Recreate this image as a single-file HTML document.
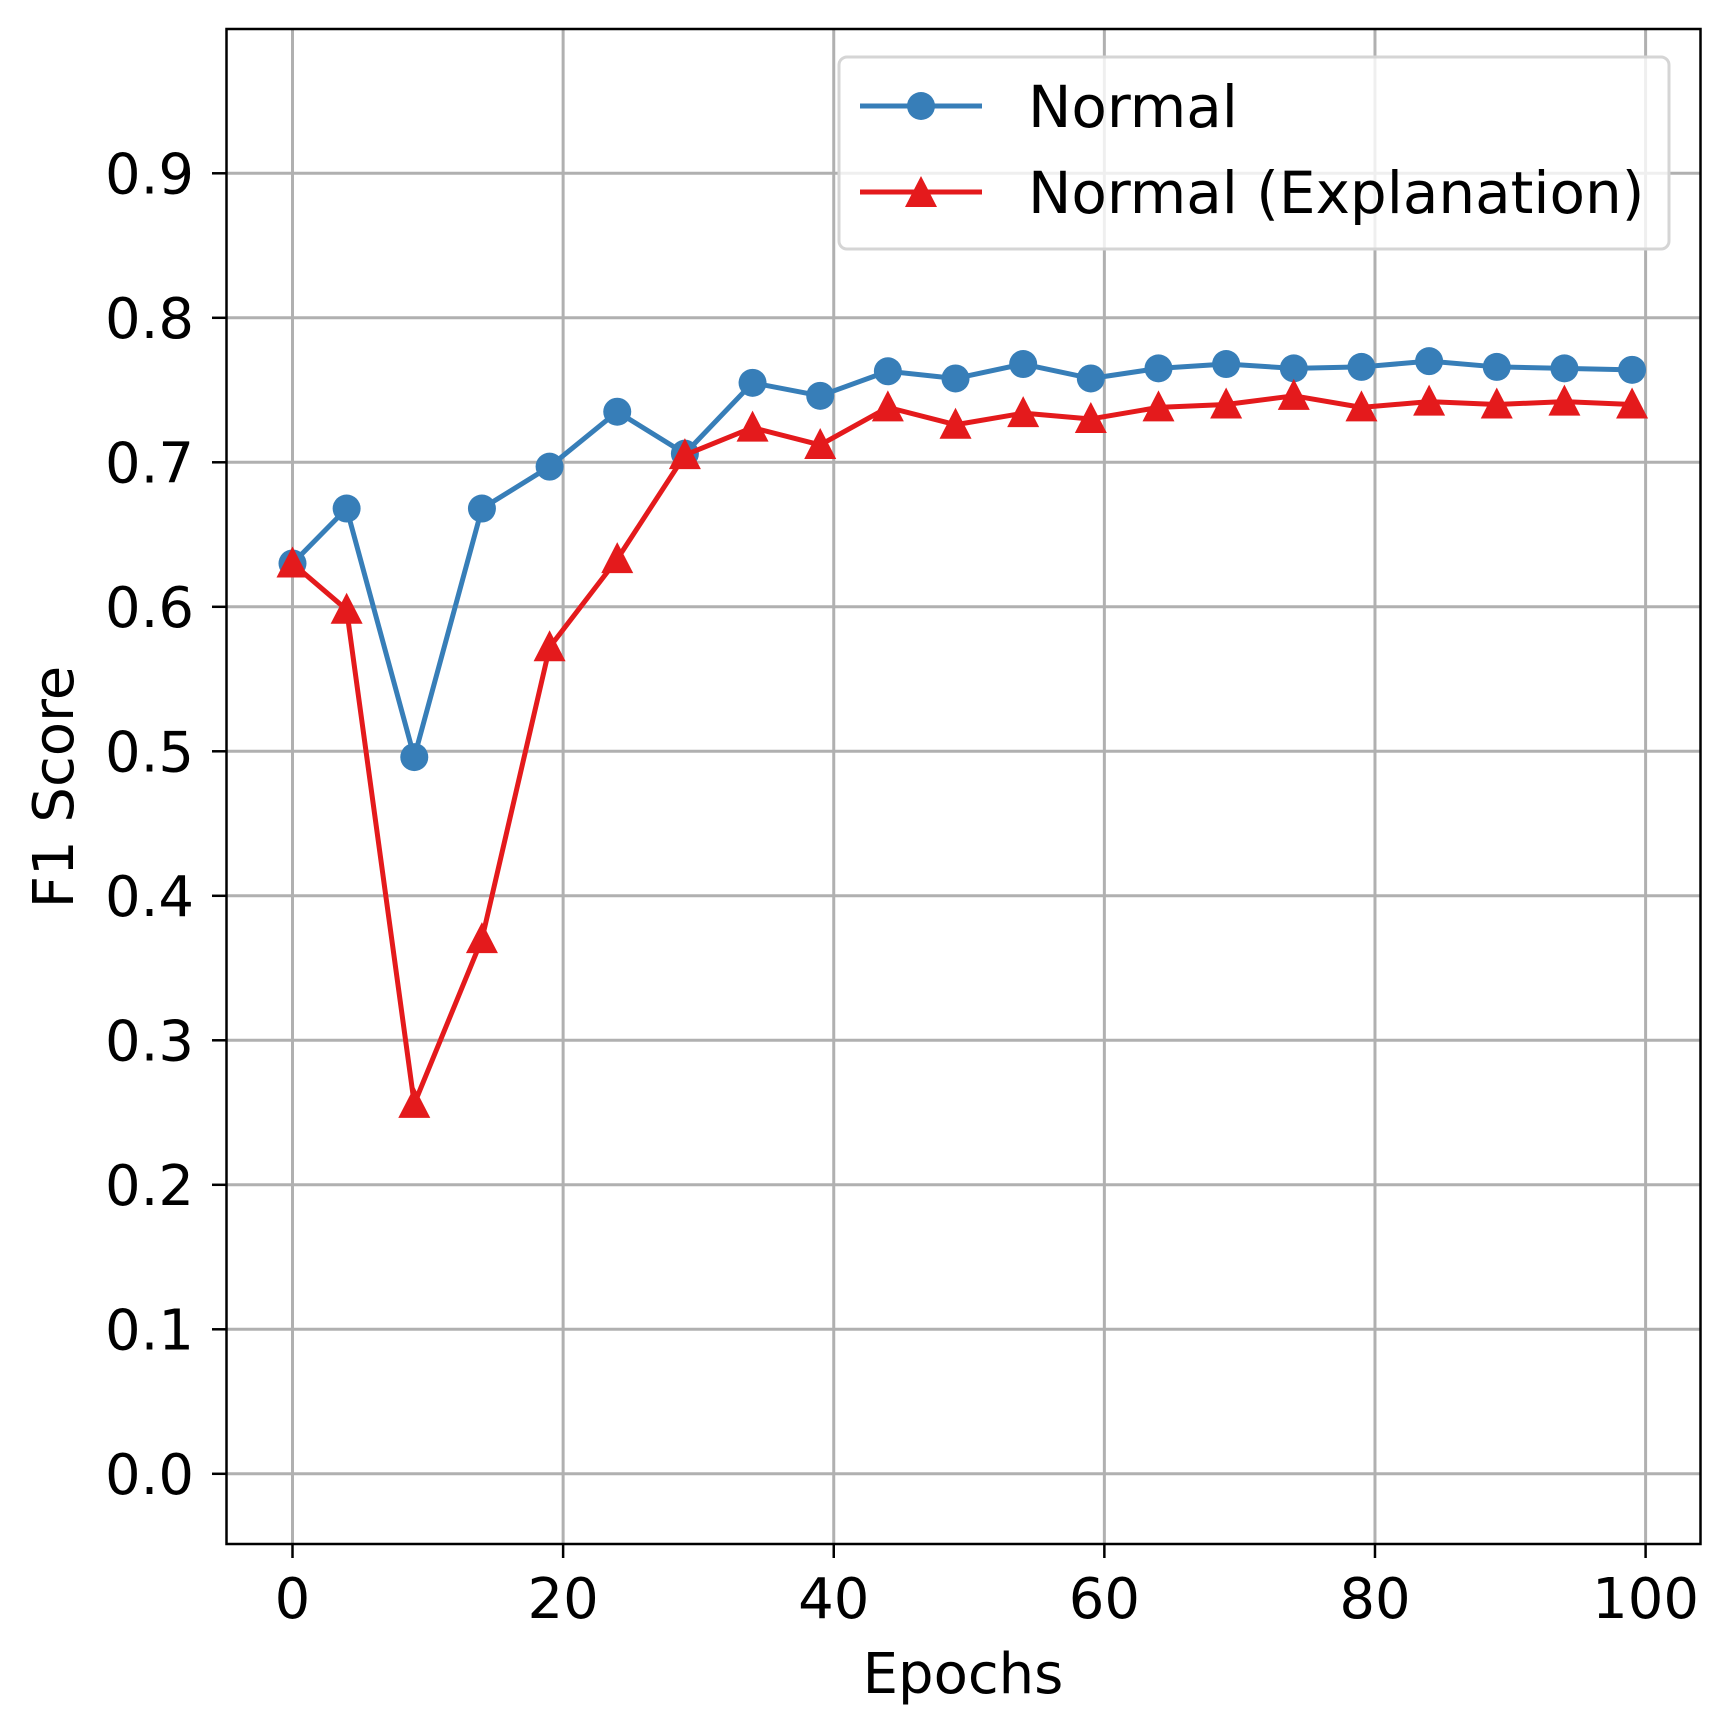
<!DOCTYPE html>
<html><head><meta charset="utf-8"><style>html,body{margin:0;padding:0;background:#fff}svg{display:block}text{font-family:"DejaVu Sans","Liberation Sans",sans-serif;fill:#000}</style></head>
<body>
<svg id="chart" width="1730" height="1733" viewBox="0 0 1730 1733" xmlns="http://www.w3.org/2000/svg">
<g id="grid"></g>
<g id="series"></g>
<rect x="226.5" y="29" width="1474" height="1515" fill="none" stroke="#000" stroke-width="2.5"/>
<g id="ticks"></g>
<text x="963" y="1693" font-size="56" text-anchor="middle">Epochs</text>
<text x="0" y="0" font-size="56" text-anchor="middle" transform="translate(73,787) rotate(-90)">F1 Score</text>
<g>
<rect x="839" y="57" width="830" height="192" rx="8" fill="#fff" fill-opacity="0.8" stroke="#d5d5d5" stroke-width="3"/>
<g>
<line x1="860" y1="106" x2="982" y2="106" stroke="#377eb8" stroke-width="5"/>
<circle cx="921" cy="106" r="14" fill="#377eb8"/>
<text x="1028" y="127" font-size="58">Normal</text>
</g>
<g>
<line x1="860" y1="192" x2="982" y2="192" stroke="#e41a1c" stroke-width="5"/>
<polygon points="921,176 937,207 905,207" fill="#e41a1c"/>
<text x="1028" y="213" font-size="58">Normal (Explanation)</text>
</g>
</g>
</svg>
<script>
const epochs=[0,4,9,14,19,24,29,34,39,44,49,54,59,64,69,74,79,84,89,94,99];
const normalF1=[0.630,0.668,0.496,0.668,0.697,0.735,0.706,0.755,0.746,0.763,0.758,0.768,0.758,0.765,0.768,0.765,0.766,0.770,0.766,0.765,0.764];
const explF1=[0.630,0.598,0.256,0.370,0.572,0.633,0.705,0.724,0.712,0.738,0.726,0.734,0.730,0.738,0.740,0.746,0.738,0.742,0.740,0.742,0.740];
const xTicks=[0,20,40,60,80,100];
const yTicks=[0.0,0.1,0.2,0.3,0.4,0.5,0.6,0.7,0.8,0.9];
const NS='http://www.w3.org/2000/svg';
function xs(v){return 292.5+v*13.531;}
function ys(v){return 1473.8-v*1445;}
function mk(tag,attrs,parent){const e=document.createElementNS(NS,tag);for(const k in attrs)e.setAttribute(k,attrs[k]);parent.appendChild(e);return e;}
const grid=document.getElementById('grid'),ticks=document.getElementById('ticks'),series=document.getElementById('series');
xTicks.forEach(t=>{
 const g=mk('line',{x1:xs(t),x2:xs(t),y1:29,y2:1544,stroke:'#b0b0b0','stroke-width':3},grid);
 
 
 const tk=mk('line',{x1:xs(t),x2:xs(t),y1:1544,y2:1558,stroke:'#000','stroke-width':2.5},ticks);
 
 
 const lb=mk('text',{x:xs(t),y:1618,'font-size':56,'text-anchor':'middle'},ticks);
 lb.textContent=String(t);
 
 
});
yTicks.forEach(t=>{
 const g=mk('line',{x1:226.5,x2:1700.5,y1:ys(t),y2:ys(t),stroke:'#b0b0b0','stroke-width':3},grid);
 
 
 const tk=mk('line',{x1:212,x2:226.5,y1:ys(t),y2:ys(t),stroke:'#000','stroke-width':2.5},ticks);
 
 
 const lb=mk('text',{x:194,y:ys(t)+20,'font-size':56,'text-anchor':'end'},ticks);
 lb.textContent=t.toFixed(1);
 
 
});
function pts(arr){return epochs.map((e,i)=>xs(e)+','+ys(arr[i])).join(' ');}
const l1=mk('polyline',{points:pts(normalF1),fill:'none',stroke:'#377eb8','stroke-width':5,'stroke-linejoin':'round'},series);


epochs.forEach((e,i)=>{
 const c=mk('circle',{cx:xs(e),cy:ys(normalF1[i]),r:14,fill:'#377eb8'},series);
 
 
});
const l2=mk('polyline',{points:pts(explF1),fill:'none',stroke:'#e41a1c','stroke-width':5,'stroke-linejoin':'round'},series);


epochs.forEach((e,i)=>{
 const x=xs(e),y=ys(explF1[i]);
 const p=mk('polygon',{points:`${x},${y-17} ${x+16},${y+14} ${x-16},${y+14}`,fill:'#e41a1c'},series);
 
 
});
</script>
</body></html>
